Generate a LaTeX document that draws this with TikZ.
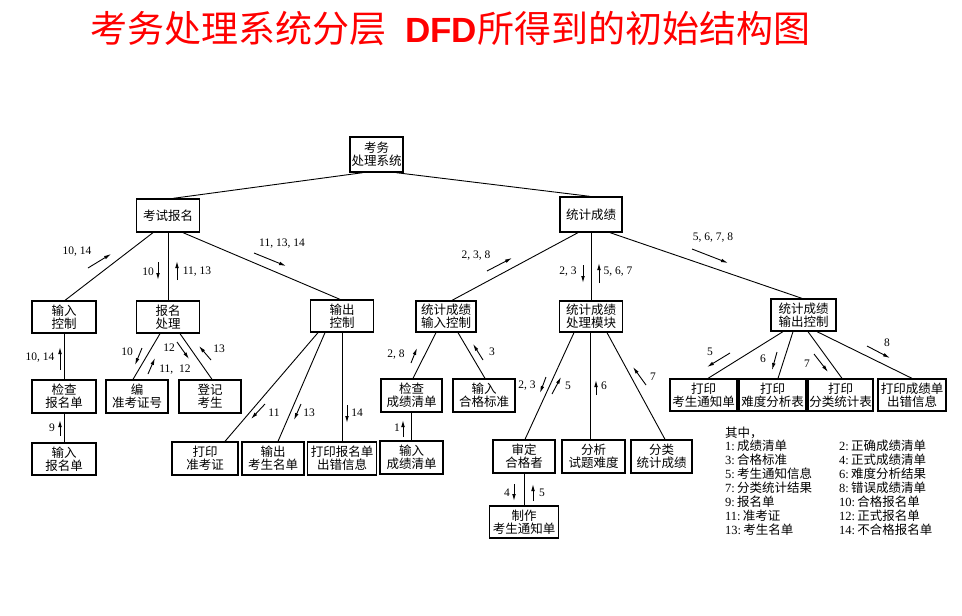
\documentclass[tikz,border=0pt]{standalone}
\usepackage{fontspec}
\setmainfont{Liberation Serif}
\newfontfamily\cjk{Noto Sans CJK SC}
\newfontfamily\titlelat{Liberation Sans}
\usetikzlibrary{arrows.meta}
\newcommand{\lgd}[2]{#1:\,{\cjk #2}}
\begin{document}
\begin{tikzpicture}[x=1pt,y=-1pt,
  box/.style={draw, line width=1.3pt, minimum width=#1pt, minimum height=33pt, inner sep=0pt, align=center, font=\cjk\fontsize{12.5}{13}\selectfont},
  conn/.style={line width=0.9pt},
  flow/.style={-{Latex[length=7pt,width=3.6pt]}, line width=0.9pt},
  lbl/.style={inner sep=0pt, font=\fontsize{11.5}{11.5}\selectfont},
  ttl/.style={anchor=base west, inner sep=0pt, text=red},
  lg/.style={anchor=west, inner sep=0pt, font=\fontsize{12.5}{13}\selectfont}]
\useasboundingbox (0,0) rectangle (962,616);

% title
\node[ttl, font=\cjk\fontsize{37}{37}\selectfont] (t1) at (90,42) {考务处理系统分层};
\node[ttl, font=\titlelat\bfseries\fontsize{35}{35}\selectfont] (t2) at (405,42) {DFD};
\node[ttl, font=\cjk\fontsize{37}{37}\selectfont] (t3) at (477,42) {所得到的初始结构图};

% boxes
\node[box=53, minimum height=35pt] (root) at (376.5,154.5) {考务\\处理系统};
\node[box=63] (kb) at (168,215.5) {考试报名};
\node[box=62, minimum height=35pt] (tj) at (591,214.5) {统计成绩};

\node[box=64, minimum height=32pt] (a1) at (64,317) {输入\\控制};
\node[box=63, minimum height=32pt] (a2) at (168,317) {报名\\处理};
\node[box=63, minimum height=32pt] (a3) at (342,316) {输出\\控制};
\node[box=64] (a11) at (64,396.5) {检查\\报名单};
\node[box=64, minimum height=32pt] (a12) at (64,459) {输入\\报名单};
\node[box=62] (a21) at (137,396.5) {编\\准考证号};
\node[box=62] (a22) at (210,396.5) {登记\\考生};
\node[box=66] (a31) at (205,458.5) {打印\\准考证};
\node[box=62] (a32) at (273,458.5) {输出\\考生名单};
\node[box=69] (a33) at (342,458.5) {打印报名单\\出错信息};

\node[box=60, minimum height=31pt] (b1) at (446,316.5) {统计成绩\\输入控制};
\node[box=63, minimum height=31pt] (b2) at (591,316.5) {统计成绩\\处理模块};
\node[box=65, minimum height=32pt] (b3) at (803.5,315) {统计成绩\\输出控制};
\node[box=61] (b11) at (411.5,395.5) {检查\\成绩清单};
\node[box=62] (b12) at (484,395.5) {输入\\合格标准};
\node[box=63] (b111) at (411.5,457.5) {输入\\成绩清单};
\node[box=62] (b21) at (524,456.5) {审定\\合格者};
\node[box=63] (b22) at (593.5,456.5) {分析\\试题难度};
\node[box=61] (b23) at (661.5,456.5) {分类\\统计成绩};
\node[box=69, minimum height=32pt] (b211) at (524,522) {制作\\考生通知单};
\node[box=67, minimum height=32pt] (b31) at (703.5,395) {打印\\考生通知单};
\node[box=67, minimum height=32pt] (b32) at (772.5,395) {打印\\难度分析表};
\node[box=65, minimum height=32pt] (b33) at (840.5,395) {打印\\分类统计表};
\node[box=68, minimum height=32pt] (b34) at (912,395) {打印成绩单\\出错信息};

% connectors
\draw[conn] ([xshift=-13.5pt]root.south) -- ([xshift=5pt]kb.north);
\draw[conn] ([xshift=19.5pt]root.south) -- ([xshift=-1pt]tj.north);

\draw[conn] ([xshift=-15pt]kb.south) -- ([xshift=1pt]a1.north);
\draw[conn] (kb.south) -- (a2.north);
\draw[conn] ([xshift=15pt]kb.south) -- ([xshift=-2pt]a3.north);
\draw[conn] (a1.south) -- (a11.north);
\draw[conn] (a11.south) -- (a12.north);
\draw[conn] ([xshift=-8pt]a2.south) -- ([xshift=-4pt]a21.north);
\draw[conn] ([xshift=12pt]a2.south) -- ([xshift=2pt]a22.north);
\draw[conn] ([xshift=-24pt]a3.south) -- ([xshift=20pt]a31.north);
\draw[conn] ([xshift=-17pt]a3.south) -- ([xshift=5pt]a32.north);
\draw[conn] (a3.south) -- (a33.north);

\draw[conn] ([xshift=-13pt]tj.south) -- ([xshift=6pt]b1.north);
\draw[conn] (tj.south) -- (b2.north);
\draw[conn] ([xshift=19pt]tj.south) -- ([xshift=-1.5pt]b3.north);
\draw[conn] ([xshift=-10pt]b1.south) -- ([xshift=1.5pt]b11.north);
\draw[conn] ([xshift=12pt]b1.south) -- ([xshift=1pt]b12.north);
\draw[conn] (b11.south) -- (b111.north);
\draw[conn] ([xshift=-17pt]b2.south) -- ([xshift=1pt]b21.north);
\draw[conn] ([xshift=-1pt]b2.south) -- ([xshift=-1pt]b2.south |- b22.north);
\draw[conn] ([xshift=16pt]b2.south) -- ([xshift=3.5pt]b23.north);
\draw[conn] (b21.south) -- (b211.north);
\draw[conn] ([xshift=-20.5pt]b3.south) -- ([xshift=4.5pt]b31.north);
\draw[conn] ([xshift=-10.5pt]b3.south) -- ([xshift=5.5pt]b32.north);
\draw[conn] ([xshift=4.5pt]b3.south) -- ([xshift=1.5pt]b33.north);
\draw[conn] ([xshift=13.5pt]b3.south) -- (b34.north);

% data-flow arrows and labels
\draw[flow] (88,268) -- (111,254);   \node[lbl] (l1) at (77,252) {10, 14};
\draw[flow] (158,262) -- (158,280);  \node[lbl] (l2) at (148,272) {10};
\draw[flow] (177,280) -- (177,261);  \node[lbl] (l3) at (197,272) {11, 13};
\draw[flow] (254,253) -- (286,266);  \node[lbl] (l4) at (282,244) {11, 13, 14};
\draw[flow] (60,370) -- (60,347);    \node[lbl] (l5) at (40,358) {10, 14};
\draw[flow] (60,436) -- (60,420);    \node[lbl] (l6) at (52,428) {9};
\draw[flow] (142,348) -- (135,365);  \node[lbl] (l7) at (127,352) {10};
\draw[flow] (148,374) -- (155,358);  \node[lbl] (l8) at (175,370) {11,\ \ 12};
\draw[flow] (177,342) -- (189,359);  \node[lbl] (l9) at (169,348) {12};
\draw[flow] (211,360) -- (199,346);  \node[lbl] (l10) at (219,349) {13};
\draw[flow] (265,404) -- (251,419);  \node[lbl] (l11) at (274,413) {11};
\draw[flow] (301,404) -- (294,420);  \node[lbl] (l12) at (309,413) {13};
\draw[flow] (347,405) -- (347,423);  \node[lbl] (l13) at (357,413) {14};

\draw[flow] (487,271) -- (512,258);  \node[lbl] (l14) at (476,256) {2, 3, 8};
\draw[flow] (583,265) -- (583,283);  \node[lbl] (l15) at (568,272) {2, 3};
\draw[flow] (599,283) -- (599,263);  \node[lbl] (l16) at (618,272) {5, 6, 7};
\draw[flow] (692,249) -- (728,263);  \node[lbl] (l17) at (713,238) {5, 6, 7, 8};
\draw[flow] (411,363) -- (417,348);  \node[lbl] (l18) at (396,355) {2, 8};
\draw[flow] (483,360) -- (473,344);  \node[lbl] (l19) at (492,352) {3};
\draw[flow] (403,437) -- (403,420);  \node[lbl] (l20) at (397,428) {1};
\draw[flow] (546,377) -- (540,393);  \node[lbl] (l21) at (527,386) {2, 3};
\draw[flow] (552,394) -- (561,377);  \node[lbl] (l22) at (568,386) {5};
\draw[flow] (596,395) -- (596,380);  \node[lbl] (l23) at (604,386) {6};
\draw[flow] (646,385) -- (633,367);  \node[lbl] (l24) at (653,377) {7};
\draw[flow] (514,484) -- (514,501);  \node[lbl] (l25) at (507,493) {4};
\draw[flow] (533,501) -- (533,484);  \node[lbl] (l26) at (542,493) {5};
\draw[flow] (730,353) -- (707,367);  \node[lbl] (l27) at (710,352) {5};
\draw[flow] (777,352) -- (772,370);  \node[lbl] (l28) at (763,359) {6};
\draw[flow] (814,354) -- (828,372);  \node[lbl] (l29) at (807,364) {7};
\draw[flow] (867,346) -- (890,358);  \node[lbl] (l30) at (887,343) {8};

% legend
\node[lg] (g0) at (725,433) {\cjk 其中，};
\node[lg] (g1) at (725,446) {\lgd{1}{成绩清单}};
\node[lg] (g2) at (839,446) {\lgd{2}{正确成绩清单}};
\node[lg] (g3) at (725,460) {\lgd{3}{合格标准}};
\node[lg] (g4) at (839,460) {\lgd{4}{正式成绩清单}};
\node[lg] (g5) at (725,474) {\lgd{5}{考生通知信息}};
\node[lg] (g6) at (839,474) {\lgd{6}{难度分析结果}};
\node[lg] (g7) at (725,488) {\lgd{7}{分类统计结果}};
\node[lg] (g8) at (839,488) {\lgd{8}{错误成绩清单}};
\node[lg] (g9) at (725,502) {\lgd{9}{报名单}};
\node[lg] (g10) at (839,502) {\lgd{10}{合格报名单}};
\node[lg] (g11) at (725,516) {\lgd{11}{准考证}};
\node[lg] (g12) at (839,516) {\lgd{12}{正式报名单}};
\node[lg] (g13) at (725,530) {\lgd{13}{考生名单}};
\node[lg] (g14) at (839,530) {\lgd{14}{不合格报名单}};
\end{tikzpicture}
\end{document}
